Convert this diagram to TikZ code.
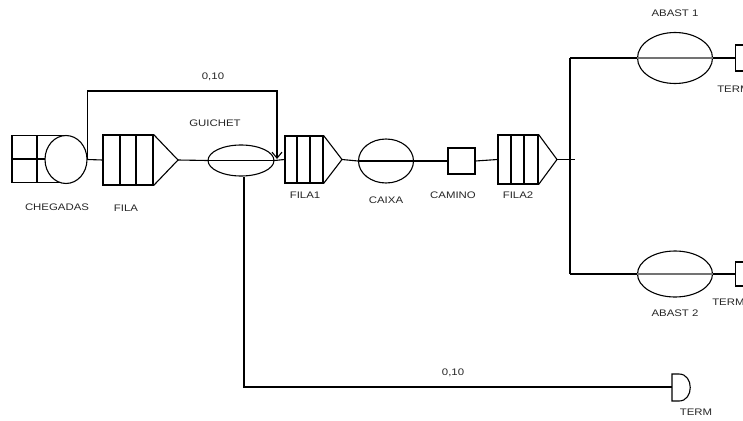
\documentclass[tikz,border=0pt]{standalone}
\usepackage{fontspec}
\setmainfont{Liberation Sans}
\usetikzlibrary{shapes.geometric,arrows.meta,calc}
\tikzset{
  ln/.style={line width=1.1pt, black},
  ell/.style={ellipse, draw, ln, fill=white, inner sep=0pt},
  box/.style={rectangle, draw, ln, fill=white, inner sep=0pt},
  lbl/.style={font=\fontsize{9.5}{10}\selectfont, xscale=1.2, transform shape, inner sep=0pt, text=black!85},
}
\begin{document}
\begin{tikzpicture}[x=1pt,y=-1pt]
\useasboundingbox (0,0) rectangle (743,420);
\clip (0,0) rectangle (743,420);
% CHEGADAS
\node[box, minimum width=55pt, minimum height=47pt] (chegbox) at (39.5,159) {};
\draw[ln] (37,135.5) -- (37,182.5);
\draw[ln] (12,159) -- (46,159);
\node[ell, minimum width=42pt, minimum height=48pt] (cheg) at (66,159.5) {};
% FILA
\node[box, minimum width=50pt, minimum height=50pt] (fila) at (128,160) {};
\draw[ln] (120,135) -- (120,185);
\draw[ln] (136,135) -- (136,185);
\coordinate (filatip) at (178,160);
\draw[ln] (fila.north east) -- (filatip) -- (fila.south east);
% GUICHET
\node[ell, minimum width=66pt, minimum height=31pt] (guichet) at (241,160.5) {};
\draw[ln] (guichet.west) -- (guichet.east);
% FILA1
\node[box, minimum width=38pt, minimum height=47pt] (fila1) at (304,159.5) {};
\draw[ln] (297,136) -- (297,183);
\draw[ln] (310,136) -- (310,183);
\coordinate (fila1tip) at (342,159.5);
\draw[ln] (fila1.north east) -- (fila1tip) -- (fila1.south east);
% CAIXA
\node[ell, minimum width=55pt, minimum height=44pt] (caixa) at (386,161) {};
\draw[ln] (caixa.west) -- (caixa.east);
% CAMINO
\node[box, minimum width=27pt, minimum height=26pt] (camino) at (461.5,161) {};
% FILA2
\node[box, minimum width=40pt, minimum height=49pt] (fila2) at (518,159.5) {};
\draw[ln] (511,135) -- (511,184);
\draw[ln] (524,135) -- (524,184);
\coordinate (fila2tip) at (557,159.5);
\draw[ln] (fila2.north east) -- (fila2tip) -- (fila2.south east);
% ABAST
\node[ell, minimum width=75pt, minimum height=51pt] (abast1) at (675,58) {};
\draw[black!55, line width=1.1pt] (abast1.west) -- (abast1.east);
\node[ell, minimum width=75pt, minimum height=46pt] (abast2) at (675,274) {};
\draw[black!55, line width=1.1pt] (abast2.west) -- (abast2.east);
% TERMs
\node[box, minimum width=24pt, minimum height=26pt, anchor=west] (term1) at (735,58) {};
\node[box, minimum width=24pt, minimum height=24pt, anchor=west] (term2) at (735,274) {};
\coordinate (term3) at (672,387);
\draw[ln] (672,374) -- (679,374) .. controls (694,374) and (694,401) .. (679,401) -- (672,401) -- cycle;
% branch coordinates
\coordinate (btop) at (570,58);
\coordinate (bbot) at (570,274);
\coordinate (bmid) at (570,159.5);
\coordinate (looptop) at (277,91);
\coordinate (loopend) at (277,159);
\coordinate (down) at (244,387);
% connectors
\draw[ln] (cheg.east) -- (fila.west);
\draw[ln] (filatip) -- (guichet.west);
\draw[ln] (guichet.east) -- (fila1.west);
\draw[ln] (fila1tip) -- (caixa.west);
\draw[ln] (caixa.east) -- (camino.west);
\draw[ln] (camino.east) -- (fila2.west);
\draw[ln] (fila2tip) -- (bmid) -- ++(5,0);
\draw[ln] (btop) -- (bbot);
\draw[ln] (btop) -- (abast1.west);
\draw[ln] (bbot) -- (abast2.west);
\draw[ln] (abast1.east) -- (term1.west);
\draw[ln] (abast2.east) -- (term2.west);
\draw[ln, -{Straight Barb[length=6pt,width=10pt]}] (cheg.east) |- (looptop) -- (loopend);
\draw[ln] (guichet.south -| down) -- (down) -- (term3);
% labels
\node[lbl] at (57,207) {CHEGADAS};
\node[lbl] at (126,208) {FILA};
\node[lbl] at (215,123) {GUICHET};
\node[lbl] at (213,77) {0,10};
\node[lbl] at (305,195) {FILA1};
\node[lbl] at (386,200) {CAIXA};
\node[lbl] at (453,195) {CAMINO};
\node[lbl] at (518,195) {FILA2};
\node[lbl] at (675,13) {ABAST 1};
\node[lbl] at (675,313) {ABAST 2};
\node[lbl, anchor=west] at (717,89) {TERM};
\node[lbl, anchor=west] at (712,302) {TERM};
\node[lbl] at (696,412) {TERM};
\node[lbl] at (453,373) {0,10};
\end{tikzpicture}
\end{document}
